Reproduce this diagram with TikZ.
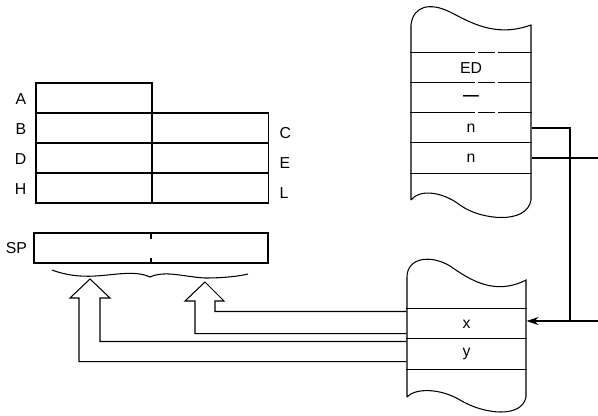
\documentclass[tikz,border=0pt]{standalone}
\usepackage{fontspec}
\setmainfont{Liberation Sans}
\usetikzlibrary{arrows.meta, calc, positioning}
\tikzset{
  % one unit is one pixel of the reference, y running downwards
  every picture/.append style = {x=0.03cm, y=-0.03cm, line width=0.9pt,
                                 font=\fontsize{13.5}{15}\selectfont},
  regcell/.style  = {draw, minimum width=3.48cm, minimum height=0.9cm, inner sep=0pt},
  stackrow/.style = {minimum width=3.6cm, minimum height=0.9cm, inner sep=0pt},
  reglbl/.style   = {inner sep=0pt},
  rowline/.style  = {dash pattern=on 55pt off 3pt on 14pt off 3pt},
  feed/.style     = {-{Stealth[length=3.6mm, width=2.4mm]}},
}
\begin{document}
\begin{tikzpicture}
  \useasboundingbox (0,0) rectangle (598,415);
  % register pairs
  \node[regcell] (A) at (94,98) {};
  \node[regcell] (B) at (94,128) {};
  \node[regcell] (C) at (210.5,128) {};
  \node[regcell] (D) at (94,158) {};
  \node[regcell] (E) at (210.5,158) {};
  \node[regcell] (H) at (94,188) {};
  \node[regcell] (L) at (210.5,188) {};
  \foreach \r in {A,B,D,H}
    \node[reglbl, left=0.26cm of \r.west, yshift=-1pt] {\r};
  \foreach \r in {C,E,L}
    \node[reglbl, right=0.3cm of \r.east, yshift=-4pt] {\r};
  % stack pointer
  \node[regcell, minimum width=7.02cm] (SP) at (151,248) {};
  \node[reglbl, left=0.18cm of SP.west] {SP};
  \draw (SP.north) -- ++(0,7);
  \draw (SP.south) -- ++(0,-6);
  % brace under SP
  \draw (52,270) .. controls (65,275) and (80,277) .. (95,276)
                 .. controls (115,275) and (135,270) .. (150,277)
                 .. controls (165,270) and (185,277) .. (205,278)
                 .. controls (225,278) and (240,276) .. (248,274);
  % upper stack (memory)
  \draw (411,200) -- (411,25)
        .. controls (413,6) and (430,2) .. (450,12)
        .. controls (470,22) and (495,38) .. (531,25)
        -- (531,200)
        .. controls (527,225) and (480,220) .. (460,205)
        .. controls (440,190) and (418,190) .. (411,200);
  \node[stackrow] (ED) at (471,68) {ED};
  \node[stackrow] (dash) at (471,98) {\textbf{—}};
  \node[stackrow] (n1) at (471,128) {n};
  \node[stackrow] (n2) at (471,158) {n};
  \draw[rowline] (ED.north west) -- (ED.north east);
  \draw[rowline] (dash.north west) -- (dash.north east);
  \draw[rowline] (n1.north west) -- (n1.north east);
  \draw (n2.north west) -- (n2.north east);
  \draw (n2.south west) -- (n2.south east);
  % lower stack (memory)
  \draw (407,397) -- (407,277)
        .. controls (407,258) and (430,254) .. (450,266)
        .. controls (470,280) and (495,296) .. (526,280)
        -- (526,397)
        .. controls (522,418) and (485,415) .. (460,400)
        .. controls (440,388) and (415,388) .. (407,397);
  \node[stackrow, minimum width=3.57cm] (x) at (466.5,324) {x};
  \node[stackrow, minimum width=3.57cm] (y) at (466.5,354) {y};
  \draw (x.north west) -- (x.north east);
  \draw (y.north west) -- (y.north east);
  \draw (y.south west) -- (y.south east);
  % address lines
  \coordinate (rim) at (598,321);
  \coordinate (join) at (570,321);
  \draw[feed] (rim) -- (x.east |- rim);
  \draw (n1.east) -| (join);
  \draw (n2.east) -- (n2.east -| rim);
  % hollow transfer arrows into SP
  \coordinate (tipL) at (90,279);
  \coordinate (tipR) at (205,282);
  \draw ($(x.north west)+(0,3)$) -| ($(tipR)+(10,19)$) -- ++(9,0) -- (tipR)
        -- ++(-20,19) -- ++(10,0) |- ($(x.south west)+(0,-6)$);
  \draw ($(y.north west)+(0,3)$) -| ($(tipL)+(10,19)$) -- ++(10,0) -- (tipL)
        -- ++(-20,19) -- ++(9,0) |- ($(y.south west)+(0,-8)$);
\end{tikzpicture}
\end{document}
